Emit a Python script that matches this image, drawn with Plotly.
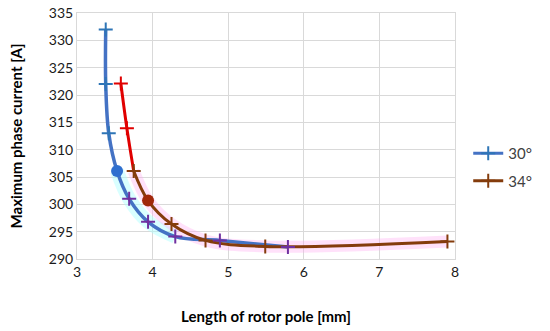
import plotly.graph_objects as go

# 30° series
x30 = [3.38, 3.38, 3.42, 3.53, 3.69, 3.94, 4.30, 4.89, 5.79]
y30 = [332.0, 322.0, 313.0, 306.1, 301.0, 296.8, 294.1, 293.4, 292.2]
# 34° series
x34 = [3.58, 3.66, 3.75, 3.94, 4.25, 4.70, 5.49, 7.90]
y34 = [322.1, 313.9, 306.1, 300.7, 296.4, 293.4, 292.3, 293.2]

series_names = ["30°", "34°"]
x_ticks = [3, 4, 5, 6, 7, 8]
y_ticks = [290, 295, 300, 305, 310, 315, 320, 325, 330, 335]

BLUE_LINE = "#4472C4"
BLUE_MK = "#2E75B6"
PURPLE = "#7030A0"
RED = "#E00000"
BROWN = "#843C0C"
FONT = "Lato"
MS = 10

fig = go.Figure()

# glows
fig.add_trace(go.Scatter(x=x30[3:7], y=y30[3:7], mode="lines",
                         line=dict(color="rgba(170,255,255,0.45)", width=14, shape="spline"),
                         showlegend=False, hoverinfo="skip"))
fig.add_trace(go.Scatter(x=x34[2:], y=y34[2:], mode="lines",
                         line=dict(color="rgba(255,170,240,0.35)", width=12, shape="spline"),
                         showlegend=False, hoverinfo="skip"))

# 30° line
fig.add_trace(go.Scatter(x=x30, y=y30, mode="lines",
                         line=dict(color=BLUE_LINE, width=3.5, shape="spline", smoothing=1),
                         showlegend=False, hoverinfo="skip"))
# 34° line, red upper then brown
fig.add_trace(go.Scatter(x=x34[:3], y=y34[:3], mode="lines",
                         line=dict(color=RED, width=3, shape="spline", smoothing=1),
                         showlegend=False, hoverinfo="skip"))
fig.add_trace(go.Scatter(x=x34[2:], y=y34[2:], mode="lines",
                         line=dict(color=BROWN, width=3, shape="spline", smoothing=1),
                         showlegend=False, hoverinfo="skip"))

# markers 30°
fig.add_trace(go.Scatter(x=x30[:3], y=y30[:3], mode="markers",
                         marker=dict(symbol="cross-thin", size=MS, line=dict(color=BLUE_MK, width=2)),
                         showlegend=False))
fig.add_trace(go.Scatter(x=x30[4:], y=y30[4:], mode="markers",
                         marker=dict(symbol="cross-thin", size=MS, line=dict(color=PURPLE, width=2)),
                         showlegend=False))
fig.add_trace(go.Scatter(x=[x30[3]], y=[y30[3]], mode="markers",
                         marker=dict(symbol="circle", size=12, color="#2F6FCF"),
                         showlegend=False))
# markers 34°
fig.add_trace(go.Scatter(x=x34[:2], y=y34[:2], mode="markers",
                         marker=dict(symbol="cross-thin", size=MS, line=dict(color=RED, width=2)),
                         showlegend=False))
fig.add_trace(go.Scatter(x=[x34[2]] + x34[4:], y=[y34[2]] + y34[4:], mode="markers",
                         marker=dict(symbol="cross-thin", size=MS, line=dict(color=BROWN, width=2)),
                         showlegend=False))
fig.add_trace(go.Scatter(x=[x34[3]], y=[y34[3]], mode="markers",
                         marker=dict(symbol="circle", size=12, color="#A0280A"),
                         showlegend=False))

# legend entries
fig.add_trace(go.Scatter(x=[None], y=[None], mode="lines+markers", name=series_names[0],
                         legendgroup="a",
                         line=dict(color=BLUE_LINE, width=3),
                         marker=dict(symbol="cross-thin", size=MS, line=dict(color=BLUE_MK, width=2))))
fig.add_trace(go.Scatter(x=[None], y=[None], mode="lines+markers", name=series_names[1],
                         legendgroup="b",
                         line=dict(color=BROWN, width=3),
                         marker=dict(symbol="cross-thin", size=MS, line=dict(color=BROWN, width=2))))

fig.update_layout(
    width=550, height=331,
    margin=dict(l=77, r=95, t=13, b=72),
    paper_bgcolor="white", plot_bgcolor="white",
    font=dict(family=FONT, size=13, color="#404040"),
    legend=dict(x=1.035, y=0.374, xanchor="left", yanchor="middle",
                font=dict(family=FONT, size=15, color="#404040"),
                traceorder="grouped", tracegroupgap=5,
                itemwidth=30, bgcolor="rgba(0,0,0,0)"),
)
fig.update_xaxes(range=[3, 8], tickvals=x_ticks, showgrid=True, gridcolor="#D9D9D9", gridwidth=1,
                 zeroline=False, showline=True, linecolor="#D9D9D9", mirror=True, ticks="",
                 automargin=False,
                 tickfont=dict(family=FONT, size=14, color="#1a1a1a"),
                 title=dict(text="<b>Length of rotor pole [mm]</b>",
                            font=dict(family=FONT, size=15, color="#000000"), standoff=32))
fig.update_yaxes(range=[290, 335], tickvals=y_ticks, showgrid=True, gridcolor="#D9D9D9", gridwidth=1,
                 zeroline=False, showline=True, linecolor="#D9D9D9", mirror=True, ticks="",
                 automargin=False,
                 tickfont=dict(family=FONT, size=14, color="#1a1a1a"),
                 title=dict(text="<b>Maximum phase current [A]</b>",
                            font=dict(family=FONT, size=15, color="#000000"), standoff=22))

fig.write_html("out.html", config={"displayModeBar": False},
               post_script="document.body.style.margin='0';")
